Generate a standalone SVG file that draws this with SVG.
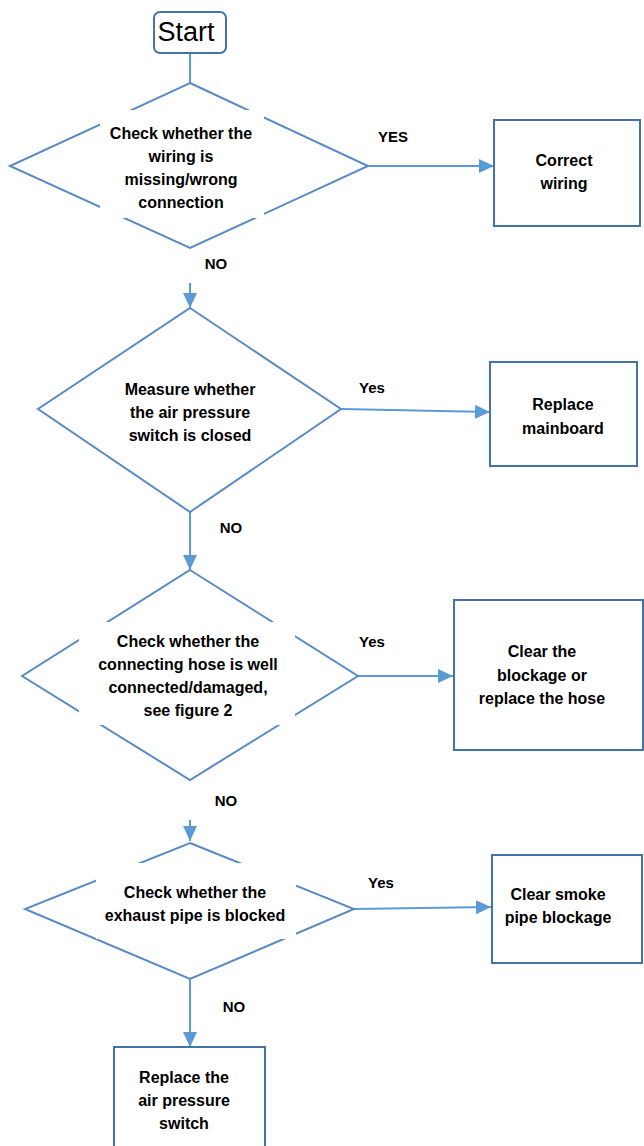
<svg xmlns="http://www.w3.org/2000/svg" width="644" height="1146" viewBox="0 0 644 1146">
<style>
.dia{fill:#fff;stroke:#5a8ac6;stroke-width:2}
.box{fill:#fff;stroke:#4573a8;stroke-width:2}
.mask{fill:#fff;stroke:none}
.t{font-family:"Liberation Sans",Arial,sans-serif;font-weight:bold;font-size:16px;fill:#000;text-anchor:middle}
.lbl{font-family:"Liberation Sans",Arial,sans-serif;font-weight:bold;font-size:15px;fill:#000;text-anchor:middle}
.con{fill:none;stroke:#5b9bd5;stroke-width:2}
</style>
<defs>
<marker id="ah" markerUnits="userSpaceOnUse" markerWidth="16" markerHeight="16" refX="15" refY="8" orient="auto">
<path d="M0,1 L15,8 L0,15 Z" fill="#5b9bd5"/>
</marker>
</defs>
<rect width="644" height="1146" fill="#fff"/>

<g id="connectors">
<line class="con" x1="190" y1="53" x2="190" y2="83"/>
<line class="con" x1="368" y1="166" x2="494" y2="166" marker-end="url(#ah)"/>
<line class="con" x1="190" y1="283" x2="190" y2="308" marker-end="url(#ah)"/>
<line class="con" x1="341" y1="409" x2="490" y2="412" marker-end="url(#ah)"/>
<line class="con" x1="190" y1="512" x2="190" y2="570" marker-end="url(#ah)"/>
<line class="con" x1="358" y1="676" x2="453" y2="676" marker-end="url(#ah)"/>
<line class="con" x1="190" y1="820" x2="190" y2="841" marker-end="url(#ah)"/>
<line class="con" x1="354" y1="909" x2="491" y2="907" marker-end="url(#ah)"/>
<line class="con" x1="190" y1="979" x2="190" y2="1047" marker-end="url(#ah)"/>
<text class="lbl" x="393" y="142">YES</text>
<text class="lbl" x="216" y="269">NO</text>
<text class="lbl" x="372" y="393">Yes</text>
<text class="lbl" x="231" y="533">NO</text>
<text class="lbl" x="372" y="647">Yes</text>
<text class="lbl" x="226" y="806">NO</text>
<text class="lbl" x="381" y="888">Yes</text>
<text class="lbl" x="234" y="1012">NO</text>
</g>

<g id="start">
<rect x="154" y="12" width="72" height="41" rx="6" ry="6" fill="#fff" stroke="#4573a8" stroke-width="2"/>
<text x="186" y="41" font-family="'Liberation Sans',Arial,sans-serif" font-size="27" text-anchor="middle" fill="#000">Start</text>
</g>

<g id="d1">
<polygon class="dia" points="190,83 368,166 190,248 10,166"/>
<rect class="mask" x="100" y="110" width="164" height="108"/>
<text class="t" x="181" y="139">Check whether the</text>
<text class="t" x="181" y="162">wiring is</text>
<text class="t" x="181" y="185">missing/wrong</text>
<text class="t" x="181" y="208">connection</text>
</g>

<g id="b1">
<rect class="box" x="494" y="120" width="146" height="106"/>
<text class="t" x="564" y="166">Correct</text>
<text class="t" x="564" y="189">wiring</text>
</g>

<g id="d2">
<polygon class="dia" points="190,308 341,409 190,512 38,409"/>
<text class="t" x="190" y="395">Measure whether</text>
<text class="t" x="190" y="418">the air pressure</text>
<text class="t" x="190" y="441">switch is closed</text>
</g>

<g id="b2">
<rect class="box" x="490" y="362" width="147" height="104"/>
<text class="t" x="563" y="410">Replace</text>
<text class="t" x="563" y="434">mainboard</text>
</g>

<g id="d3">
<polygon class="dia" points="190,570 358,676 190,780 22,676"/>
<rect class="mask" x="79" y="622" width="216" height="103"/>
<text class="t" x="188" y="647">Check whether the</text>
<text class="t" x="188" y="670">connecting hose is well</text>
<text class="t" x="188" y="693">connected/damaged,</text>
<text class="t" x="188" y="716">see figure 2</text>
</g>

<g id="b3">
<rect class="box" x="454" y="600" width="189" height="150"/>
<text class="t" x="542" y="657">Clear the</text>
<text class="t" x="542" y="681">blockage or</text>
<text class="t" x="542" y="704">replace the hose</text>
</g>

<g id="d4">
<polygon class="dia" points="190,843 354,909 190,979 25,909"/>
<rect class="mask" x="96" y="863" width="200" height="76"/>
<text class="t" x="195" y="898">Check whether the</text>
<text class="t" x="195" y="921">exhaust pipe is blocked</text>
</g>

<g id="b4">
<rect class="box" x="492" y="855" width="150" height="108"/>
<text class="t" x="558" y="900">Clear smoke</text>
<text class="t" x="558" y="923">pipe blockage</text>
</g>

<g id="b5">
<path class="box" d="M114,1147 L114,1047 L265,1047 L265,1147"/>
<text class="t" x="184" y="1083">Replace the</text>
<text class="t" x="184" y="1106">air pressure</text>
<text class="t" x="184" y="1129">switch</text>
</g>
</svg>
